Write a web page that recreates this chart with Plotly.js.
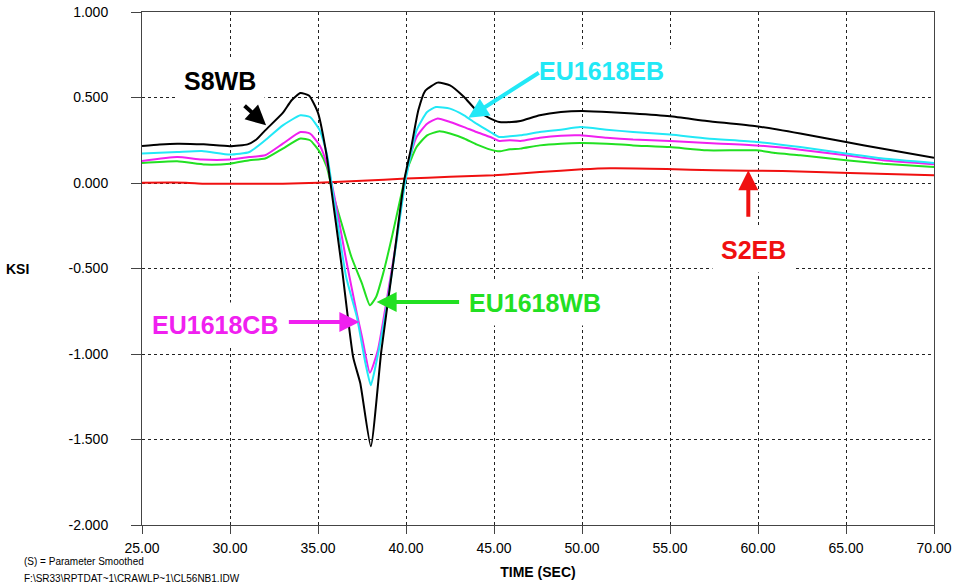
<!DOCTYPE html>
<html>
<head>
<meta charset="utf-8">
<script src="https://cdn.plot.ly/plotly-3.0.1.min.js"></script>
<style>html,body{margin:0;padding:0;background:#fff;}</style>
</head>
<body>
<div id="chart" style="width:955px;height:588px;"></div>
<script>
// ---- data ----
const t_s8wb = [25, 26, 27, 28.5, 30, 31, 31.5, 32, 33, 33.5, 34, 34.5, 35, 35.5, 35.7, 36.35, 37.0, 37.4, 38.0, 38.6, 39.3, 39.9, 40.3, 40.7, 41.1, 41.8, 42.5, 43.3, 44.0, 44.8, 45.3, 46, 46.5, 47.6, 48.8, 50, 51.4, 52.9, 55, 57.1, 59.9, 62.4, 65, 67.1, 70];
const s8wb   = [0.216, 0.225, 0.23, 0.226, 0.215, 0.226, 0.254, 0.308, 0.41, 0.484, 0.526, 0.51, 0.41, 0.155, 0.006, -0.49, -1.02, -1.17, -1.54, -0.98, -0.45, 0.016, 0.21, 0.425, 0.54, 0.587, 0.571, 0.503, 0.425, 0.377, 0.357, 0.357, 0.363, 0.396, 0.415, 0.421, 0.415, 0.406, 0.39, 0.363, 0.332, 0.289, 0.24, 0.2, 0.148];

const t_eb = [25, 27, 28.4, 30, 31.1, 32, 33, 34, 34.55, 35.1, 35.5, 35.8, 36.6, 37.2, 37.7, 38.0, 38.3, 38.9, 39.5, 39.95, 40.05, 40.6, 41.2, 41.7, 42.5, 43.3, 44, 44.8, 45.3, 45.9, 46.5, 47.6, 48.8, 49.9, 51.4, 52.9, 55, 57.1, 59.9, 62.4, 65, 67.1, 70];
const eu1618eb = [0.172, 0.181, 0.187, 0.166, 0.181, 0.25, 0.337, 0.396, 0.386, 0.308, 0.172, -0.023, -0.55, -0.78, -1.056, -1.183, -1.056, -0.725, -0.316, 0.006, 0.055, 0.308, 0.415, 0.444, 0.435, 0.396, 0.347, 0.298, 0.269, 0.273, 0.279, 0.298, 0.312, 0.327, 0.312, 0.298, 0.283, 0.26, 0.24, 0.21, 0.172, 0.143, 0.117];

const t_cb = [25, 27, 28.4, 30, 31.1, 32, 33, 34, 34.55, 35.1, 35.5, 35.9, 36.6, 37.2, 37.5, 37.95, 38.4, 38.9, 39.4, 39.85, 40.1, 40.6, 41.2, 41.8, 42.5, 43.3, 44, 44.8, 45.3, 45.9, 46.5, 47.6, 48.8, 49.9, 51.4, 52.9, 55, 57.1, 59.9, 62.4, 65, 67.1, 70];
const eu1618cb = [0.129, 0.152, 0.137, 0.137, 0.152, 0.162, 0.23, 0.298, 0.289, 0.22, 0.113, -0.062, -0.45, -0.76, -0.9, -1.11, -0.978, -0.686, -0.374, -0.043, 0.094, 0.269, 0.347, 0.377, 0.357, 0.327, 0.298, 0.269, 0.246, 0.25, 0.246, 0.265, 0.277, 0.279, 0.265, 0.254, 0.246, 0.234, 0.22, 0.195, 0.162, 0.133, 0.109];

const t_wb = [25, 27, 28.6, 30, 31.1, 32, 33, 34, 34.55, 35.1, 35.5, 35.9, 36.4, 36.9, 37.5, 37.95, 38.3, 38.7, 39.2, 39.7, 40.05, 40.6, 41.2, 41.9, 42.5, 43.3, 44, 44.8, 45.3, 45.9, 46.5, 47.6, 48.8, 49.9, 51.4, 52.9, 55, 57.1, 59.9, 61, 62.4, 65, 67.1, 70];
const eu1618wb = [0.117, 0.127, 0.108, 0.113, 0.133, 0.143, 0.201, 0.26, 0.25, 0.181, 0.094, -0.082, -0.257, -0.433, -0.588, -0.715, -0.667, -0.53, -0.316, -0.082, 0.074, 0.21, 0.279, 0.302, 0.289, 0.26, 0.226, 0.195, 0.185, 0.197, 0.201, 0.22, 0.23, 0.234, 0.23, 0.22, 0.21, 0.191, 0.191, 0.175, 0.162, 0.133, 0.113, 0.094];

const t_s2eb = [25, 27.5, 28.5, 31, 33, 35, 37.5, 40, 42.5, 45, 47.6, 50, 51.6, 54.8, 57.5, 61.4, 65.2, 70];
const s2eb   = [0.002, 0.002, -0.004, -0.004, -0.004, 0.002, 0.013, 0.026, 0.036, 0.045, 0.064, 0.08, 0.086, 0.082, 0.074, 0.07, 0.058, 0.045];

const xTickVals = [25, 30, 35, 40, 45, 50, 55, 60, 65, 70];
const xTickText = ['25.00', '30.00', '35.00', '40.00', '45.00', '50.00', '55.00', '60.00', '65.00', '70.00'];
const yTickVals = [1, 0.5, 0, -0.5, -1, -1.5, -2];
const yTickText = ['1.000', '0.500', '0.000', '-0.500', '-1.000', '-1.500', '-2.000'];

const FONT = 'Liberation Sans, Arial, sans-serif';
const C_BLACK = '#000000', C_CYAN = '#22E8F6', C_MAG = '#F020F0', C_GREEN = '#22E022', C_RED = '#F01010';

function line(x, y, color, name) {
  return {x: x, y: y, type: 'scatter', mode: 'lines', name: name,
          line: {color: color, width: 2, shape: 'spline', smoothing: 0.5}, hoverinfo: 'skip'};
}

const traces = [
  line(t_s2eb, s2eb, C_RED, 'S2EB'),
  line(t_wb, eu1618wb, C_GREEN, 'EU1618WB'),
  line(t_cb, eu1618cb, C_MAG, 'EU1618CB'),
  line(t_eb, eu1618eb, C_CYAN, 'EU1618EB'),
  line(t_s8wb, s8wb, C_BLACK, 'S8WB')
];

function label(text, x, y, color) {
  return {text: '<b>' + text + '</b>', x: x, y: y, xref: 'x', yref: 'y', showarrow: false,
          font: {family: FONT, size: 25, color: color}, bgcolor: '#ffffff', borderpad: 8,
          xanchor: 'center', yanchor: 'middle'};
}
function arrow(x, y, ax, ay, color) {
  return {text: '', x: x, y: y, xref: 'x', yref: 'y', ax: ax, ay: ay, showarrow: true,
          arrowhead: 2, arrowsize: 1, arrowwidth: 4, arrowcolor: color, standoff: 0};
}

const annotations = [
  label('S8WB', 29.43, 0.595, C_BLACK),
  label('EU1618EB', 51.08, 0.653, C_CYAN),
  label('S2EB', 59.77, -0.394, C_RED),
  label('EU1618WB', 47.33, -0.703, C_GREEN),
  label('EU1618CB', 29.15, -0.832, C_MAG),
  arrow(32.05, 0.337, -23, -21, C_BLACK),
  arrow(43.54, 0.381, 72, -46, C_CYAN),
  arrow(59.45, 0.074, 0, 48, C_RED),
  arrow(38.33, -0.696, 84, 0, C_GREEN),
  arrow(37.35, -0.813, -72, 0, C_MAG),
  {text: '<b>KSI</b>', xref: 'paper', yref: 'paper', x: -0.157, y: 0.5, xanchor: 'center', yanchor: 'middle',
   showarrow: false, font: {family: FONT, size: 14, color: '#000'}},
  {text: '(S) = Parameter Smoothed', xref: 'paper', yref: 'paper', x: -0.1515, y: -0.072,
   xanchor: 'left', yanchor: 'middle', showarrow: false, font: {family: FONT, size: 10, color: '#000'}},
  {text: 'F:\\SR33\\RPTDAT~1\\CRAWLP~1\\CL56NB1.IDW', xref: 'paper', yref: 'paper', x: -0.1515, y: -0.105,
   xanchor: 'left', yanchor: 'middle', showarrow: false, font: {family: FONT, size: 10, color: '#000'}}
];

const axisCommon = {
  showline: true, linecolor: '#444', linewidth: 1, mirror: true,
  showgrid: true, gridcolor: '#222', gridwidth: 1, griddash: '3px,3px',
  zeroline: false, ticks: 'outside', tickcolor: '#444', tickwidth: 1,
  tickfont: {family: FONT, size: 14, color: '#000'}, tickmode: 'array'
};

const layout = {
  width: 955, height: 588,
  margin: {l: 142, r: 21, t: 12, b: 63, pad: 0},
  paper_bgcolor: '#ffffff', plot_bgcolor: '#ffffff',
  showlegend: false,
  font: {family: FONT, color: '#000'},
  xaxis: Object.assign({}, axisCommon, {
    range: [25, 70], tickvals: xTickVals, ticktext: xTickText, ticklen: 8,
    ticklabelstandoff: 2,
    title: {text: '<b>TIME (SEC)</b>', font: {family: FONT, size: 14, color: '#000'}, standoff: 12}
  }),
  yaxis: Object.assign({}, axisCommon, {
    range: [-2, 1], tickvals: yTickVals, ticktext: yTickText, ticklen: 10,
    ticklabelstandoff: 20
  }),
  annotations: annotations
};

Plotly.newPlot('chart', traces, layout, {displayModeBar: false, staticPlot: true});
</script>
</body>
</html>
